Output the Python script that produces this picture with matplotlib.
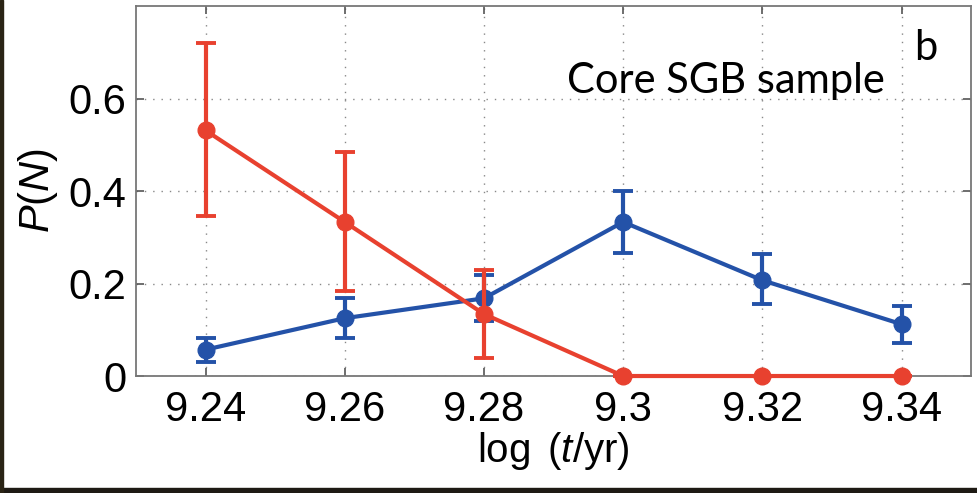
import matplotlib
matplotlib.use("Agg")
import matplotlib.pyplot as plt
from matplotlib.patches import Rectangle

plt.rcParams['font.family'] = ['Liberation Sans', 'DejaVu Sans']
plt.rcParams['mathtext.fontset'] = 'custom'
plt.rcParams['mathtext.rm'] = 'Liberation Sans'
plt.rcParams['mathtext.it'] = 'Liberation Sans:italic'

# log age bins and probabilities with error bars
log_age = [9.24, 9.26, 9.28, 9.30, 9.32, 9.34]

p_blue = [0.057, 0.125, 0.168, 0.333, 0.207, 0.112]
blue_lo = [0.030, 0.083, 0.118, 0.266, 0.155, 0.072]
blue_hi = [0.083, 0.168, 0.218, 0.401, 0.263, 0.151]

p_red = [0.531, 0.333, 0.134, 0.0, 0.0, 0.0]
red_lo = [0.345, 0.184, 0.040, 0.0, 0.0, 0.0]
red_hi = [0.719, 0.484, 0.229, 0.0, 0.0, 0.0]

xticks = [9.24, 9.26, 9.28, 9.30, 9.32, 9.34]
xtick_labels = ['9.24', '9.26', '9.28', '9.3', '9.32', '9.34']
yticks = [0, 0.2, 0.4, 0.6]
ytick_labels = ['0', '0.2', '0.4', '0.6']

BLUE = '#2452A8'
RED = '#E8412F'

fig = plt.figure(figsize=(9.78, 4.93), dpi=100)
ax = fig.add_axes([0.139, 0.2373, 0.854, 0.7505])


def draw(ax, y, lo, hi, color, z):
    yerr = [[v - l for v, l in zip(y, lo)], [h - v for v, h in zip(y, hi)]]
    ax.errorbar(log_age, y, yerr=yerr, color=color, lw=3.0, marker='o',
                ms=12, capsize=7, capthick=2.8, elinewidth=3.0, zorder=z,
                clip_on=False)


draw(ax, p_blue, blue_lo, blue_hi, BLUE, 3)
draw(ax, p_red, red_lo, red_hi, RED, 4)

ax.set_xlim(9.23, 9.35)
ax.set_ylim(0, 0.8)
ax.set_xticks(xticks)
ax.set_xticklabels(xtick_labels)
ax.set_yticks(yticks)
ax.set_yticklabels(ytick_labels)
ax.tick_params(direction='in', length=6, width=1.2, color='#555555',
               labelsize=30, top=True, right=True)
ax.tick_params(axis='x', pad=10)
ax.tick_params(axis='y', pad=7)
ax.grid(True, linestyle=(0, (1, 5)), color='#888888', linewidth=1.0)
for s in ax.spines.values():
    s.set_color('#777777')
    s.set_linewidth(1.3)

ax.set_xlabel(r'log $\,(t/\mathrm{yr})$', fontsize=29, labelpad=0)
ax.set_ylabel(r'$P(N)$', fontsize=30, labelpad=6)

ax.text(0.897, 0.765, 'Core SGB sample', transform=ax.transAxes,
        ha='right', va='baseline', fontsize=30, family=['Lato', 'DejaVu Sans'])
ax.text(0.946, 0.854, 'b', transform=ax.transAxes,
        ha='center', va='baseline', fontsize=30, family=['Lato', 'DejaVu Sans'])

# dark slide border on the left and bottom edges
fig.patches.append(Rectangle((0, 0), 1, 5 / 493, transform=fig.transFigure,
                             color='#1e1a14', zorder=10))
fig.patches.append(Rectangle((0, 0), 3 / 978, 1, transform=fig.transFigure,
                             color='#2a2415', zorder=10))

fig.savefig('out.png', dpi=100)
